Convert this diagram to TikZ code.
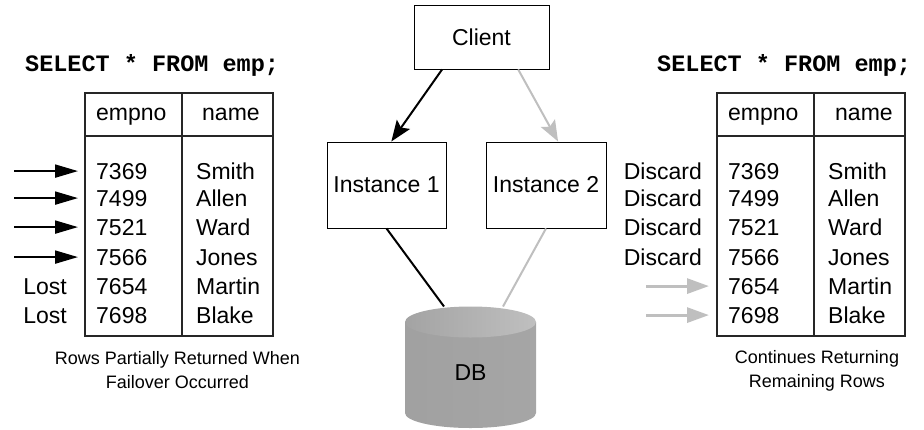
\documentclass[tikz,border=0pt]{standalone}
\usepackage{fontspec}
\setmainfont{Liberation Sans}
\setmonofont{Liberation Mono}
\usepackage{tikz}
\usetikzlibrary{arrows.meta, calc}

\newcommand{\bigtxt}{\fontsize{23}{27}\selectfont}
\newcommand{\captxt}{\fontsize{18}{24}\selectfont}
\newcommand{\sqltxt}{\fontsize{23.5}{27}\selectfont\ttfamily\bfseries}

\begin{document}
\begin{tikzpicture}[x=1pt, y=-1pt,
  every node/.style={font=\bigtxt, inner sep=0pt},
  srvbox/.style={draw, line width=0.9pt, inner sep=4pt},
  rownum/.style={anchor=base west, inner xsep=18pt},
  cell/.style={anchor=base west},
  tag/.style={anchor=base east},
  grid/.style={line width=1.2pt, black!85},
  hitarrow/.style={line width=2pt, -{Triangle[length=23pt, width=13pt]}},
  resarrow/.style={black!25, line width=3pt, -{Triangle[length=22pt, width=15pt]}},
  fwd/.style={line width=2pt, -{Stealth[length=21pt, width=16pt, inset=4pt]}},
  link/.style={line width=2pt}]
\useasboundingbox (0,0) rectangle (924,429);

% query text above both tables
\node[font=\sqltxt, anchor=base west] (lsql) at (25,71) {SELECT * FROM emp;};
\node[font=\sqltxt, anchor=base west] (rsql) at (657,71) {SELECT * FROM emp;};

% left table (before failover)
\draw[grid] (85,93) rectangle (273,336);
\draw[grid] (85,136) -- (273,136);
\draw[grid] (182,93) -- (182,336);
\node[cell] (lhno) at (96,120) {empno};
\node[cell] (lhnm) at (202,120) {name};

% right table (after failover)
\draw[grid] (717,93) rectangle (905,336);
\draw[grid] (717,136) -- (905,136);
\draw[grid] (814,93) -- (814,336);
\node[cell] (rhno) at (728,120) {empno};
\node[cell] (rhnm) at (835,120) {name};

% rows of both tables
\foreach \no/\nm/\y [count=\i] in {7369/Smith/179, 7499/Allen/206, 7521/Ward/235,
    7566/Jones/265, 7654/Martin/294, 7698/Blake/323} {
  \node[rownum] (l\i) at (78,\y) {\no};
  \node[cell] (lnm\i) at (196,\y) {\nm};
  \node[rownum, inner xsep=19pt] (r\i) at (709,\y) {\no};
  \node[cell] (rnm\i) at (828,\y) {\nm};
}

% rows already fetched / lost
\foreach \i in {1,...,4}
  \draw[hitarrow] ($(l\i.west)+(-64,0)$) -- (l\i.west);
\node[tag] (lost1) at (67,294) {Lost};
\node[tag] (lost2) at (67,323) {Lost};

% rows discarded / returned after failover
\foreach \y [count=\i] in {179,206,235,265}
  \node[tag] (disc\i) at (702,\y) {Discard};
\foreach \i in {5,6}
  \draw[resarrow] ($(r\i.west)+(-63,0)$) -- (r\i.west);

% captions
\node[font=\captxt, align=center] (lcap) at (177.5,370.5) {Rows Partially Returned When\\Failover Occurred};
\node[font=\captxt, align=center] (rcap) at (817,371) {Continues Returning\\Remaining Rows};

% client and instances
\node[srvbox, minimum width=135pt, minimum height=64pt] (client) at (481.5,37) {Client};
\node[srvbox, minimum width=119pt, minimum height=86pt] (inst1) at (386.5,185) {Instance 1};
\node[srvbox, minimum width=120pt, minimum height=86pt] (inst2) at (546,185) {Instance 2};

\draw[fwd] ($(client.south west)!0.21!(client.south east)$) -- ($(inst1.north west)!0.54!(inst1.north east)$);
\draw[fwd, black!25] ($(client.south west)!0.77!(client.south east)$) -- ($(inst2.north west)!0.6!(inst2.north east)$);

% database cylinder
\shade[left color=black!37, middle color=black!24, right color=black!35]
  (405,322) -- (405,413) arc[start angle=180, end angle=360, x radius=65.5pt, y radius=15pt]
  -- (536,322) -- cycle;
\shade[left color=black!36, right color=black!25] (470.5,322) ellipse [x radius=65.5pt, y radius=15.5pt];
\node (db) at (470.5,373) {DB};
\coordinate (dbl) at (444,306.5);
\coordinate (dbr) at (503,306.5);

\draw[link] (inst1.south) -- (dbl);
\draw[link, black!25] (inst2.south) -- (dbr);
\end{tikzpicture}
\end{document}
